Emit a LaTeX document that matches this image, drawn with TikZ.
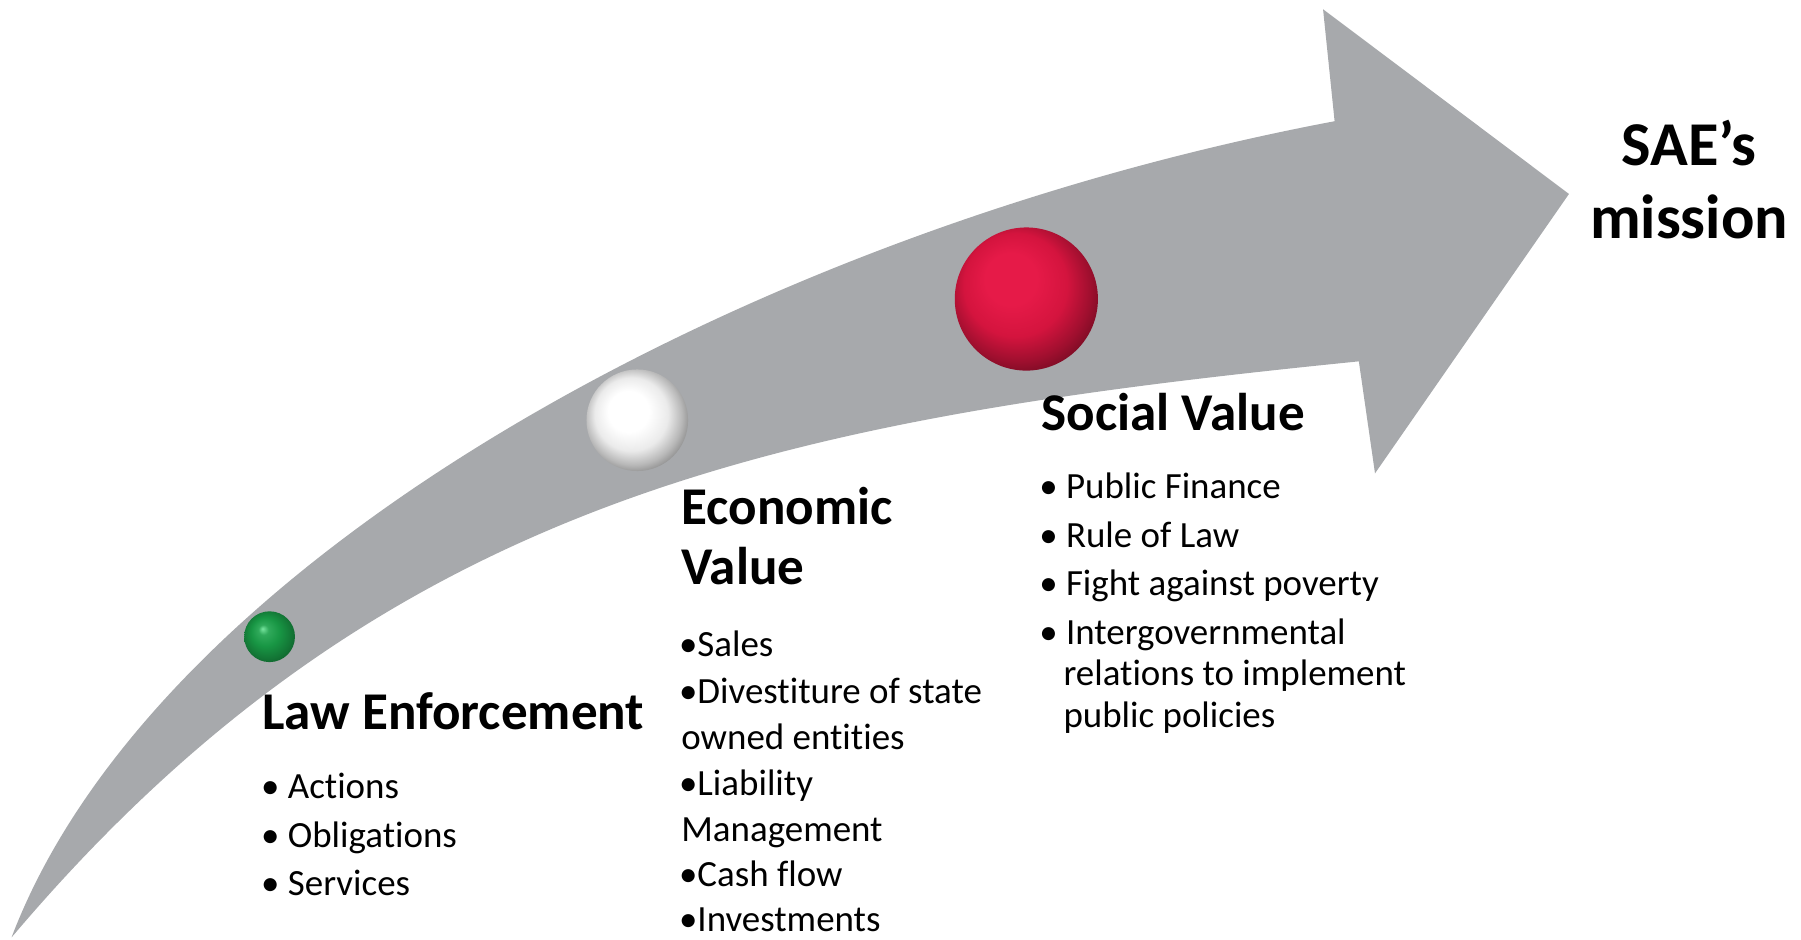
\documentclass[tikz,border=0pt]{standalone}
\usepackage{fontspec}
\setmainfont{Carlito}[Ligatures=NoCommon]
\usepackage{tikz}
\definecolor{arrowgray}{RGB}{167,169,172}
\definecolor{lawgreen}{RGB}{24,150,68}
\definecolor{lawhi}{RGB}{120,230,160}
\definecolor{socialred}{RGB}{212,20,62}
\definecolor{socialhi}{RGB}{230,26,72}
\pgfdeclareradialshading{greenball}{\pgfqpoint{-7bp}{8bp}}{color(0bp)=(lawhi); color(5bp)=(lawgreen!75!lawhi); color(14bp)=(lawgreen); color(24bp)=(lawgreen!78!black); color(35bp)=(lawgreen!50!black)}
\pgfdeclareradialshading{whiteball}{\pgfqpoint{-6bp}{6bp}}{color(0bp)=(white); color(10bp)=(white); color(18bp)=(black!8); color(24bp)=(black!28); color(29bp)=(black!50); color(36bp)=(black!55)}
\pgfdeclareradialshading{redball}{\pgfqpoint{-7bp}{9bp}}{color(0bp)=(socialhi); color(9bp)=(socialhi); color(18bp)=(socialred); color(25bp)=(socialred!75!black); color(31bp)=(socialred!50!black); color(40bp)=(socialred!40!black)}
\tikzstyle{band} = [fill=arrowgray, draw=none]
\tikzstyle{head_text} = [anchor=base west, inner sep=0pt, font=\fontsize{46}{52}\selectfont\bfseries]
\tikzstyle{item_text} = [anchor=base west, inner sep=0pt, font=\fontsize{32}{40}\selectfont]
\tikzstyle{goal_text} = [anchor=base, inner sep=0pt, font=\fontsize{54}{64}\selectfont\bfseries]
\tikzstyle{ball_node} = [circle, inner sep=0pt]

\begin{document}
\begin{tikzpicture}[x=1pt, y=-1pt]
		\useasboundingbox (0,0) rectangle (1560,814);
		\coordinate (T) at (10,812);
		\coordinate (U) at (1156,105);
		\coordinate (UB) at (1146,8);
		\coordinate (P) at (1359,168);
		\coordinate (LB) at (1191,410);
		\coordinate (L) at (1177,313);
		\fill[band] (T) .. controls (134,485) and (647,201) .. (U) -- (UB) -- (P) -- (LB) -- (L) .. controls (680,363) and (333,430) .. (T) -- cycle;
		
		\node (G) at (233.5,551.5) [ball_node, shading=greenball, minimum size=44pt] {};
		\node (W) at (552,364) [ball_node, shading=whiteball, minimum size=88pt] {};
		\node (R) at (889,259) [ball_node, shading=redball, minimum size=124pt] {};
		
		\node (law) at (227,632) [head_text] {Law Enforcement};
		\node (law1) at (226,692) [item_text] {• Actions};
		\node (law2) at (226,734) [item_text] {• Obligations};
		\node (law3) at (226,776) [item_text] {• Services};
		
		\node (eco) at (590,454) [head_text] {Economic};
		\node (eco0) at (590,506) [head_text] {Value};
		\node (eco1) at (588,569) [item_text] {•Sales};
		\node (eco2) at (588,609) [item_text] {•Divestiture of state};
		\node (eco3) at (590,649) [item_text] {owned entities};
		\node (eco4) at (588,689) [item_text] {•Liability};
		\node (eco5) at (590,729) [item_text] {Management};
		\node (eco6) at (588,768) [item_text] {•Cash flow};
		\node (eco7) at (588,807) [item_text] {•Investments};
		
		\node (soc) at (902,373) [head_text] {Social Value};
		\node (soc1) at (900,432) [item_text] {• Public Finance};
		\node (soc2) at (900,474) [item_text] {• Rule of Law};
		\node (soc3) at (900,516) [item_text] {• Fight against poverty};
		\node (soc4) at (900,558) [item_text] {• Intergovernmental};
		\node (soc5) at (921,594) [item_text] {relations to implement};
		\node (soc6) at (921,630) [item_text] {public policies};
		
		\node (sae) at (1463,143) [goal_text] {SAE’s};
		\node (mis) at (1463,207) [goal_text] {mission};
		\end{tikzpicture}
\end{document}
